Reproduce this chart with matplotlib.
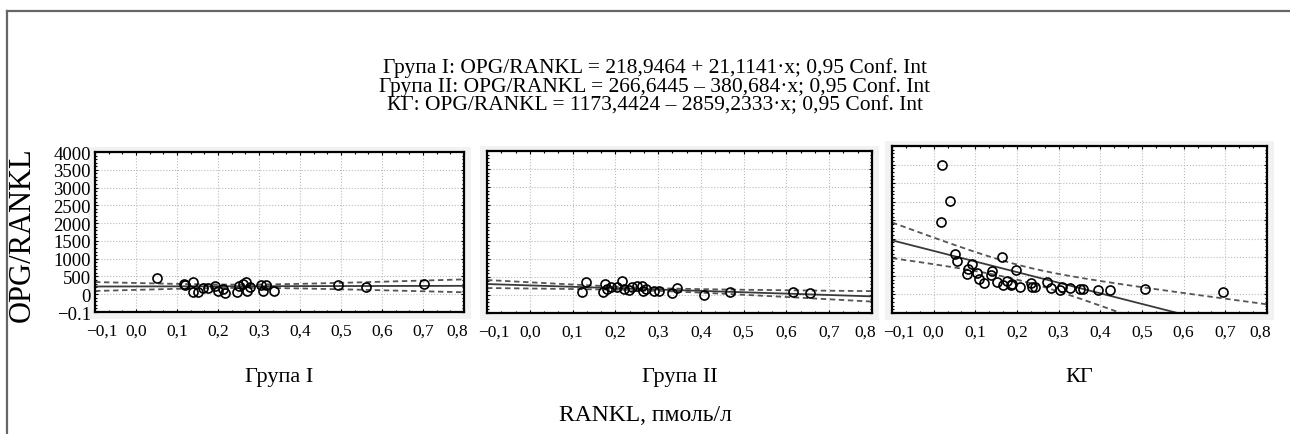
import matplotlib
matplotlib.use("Agg")
import matplotlib.pyplot as plt
import numpy as np
from matplotlib.ticker import FixedLocator, AutoMinorLocator
from matplotlib.patches import Rectangle
from matplotlib.lines import Line2D
from matplotlib.transforms import ScaledTranslation

plt.rcParams["font.family"] = ["Liberation Serif", "DejaVu Serif"]

# --- data --------------------------------------------------------------------
g1_x = [0.05, 0.118, 0.12, 0.138, 0.138, 0.152, 0.164, 0.176, 0.193, 0.20, 0.211, 0.217,
        0.247, 0.252, 0.262, 0.268, 0.271, 0.278, 0.304, 0.31, 0.318, 0.337, 0.493, 0.56, 0.702]
g1_y = [450, 300, 250, 330, 70, 60, 180, 170, 240, 80, 150, 30,
        60, 220, 280, 350, 100, 200, 250, 90, 270, 90, 270, 200, 300]

g2_x = [0.121, 0.131, 0.172, 0.176, 0.180, 0.191, 0.203, 0.216, 0.220, 0.233, 0.240, 0.250,
        0.262, 0.265, 0.272, 0.291, 0.303, 0.332, 0.343, 0.408, 0.468, 0.616, 0.655]
g2_y = [90, 370, 90, 300, 180, 210, 210, 400, 180, 150, 210, 260,
        260, 120, 180, 120, 120, 50, 190, 10, 70, 70, 55]

kg_x = [0.021, 0.040, 0.017, 0.051, 0.055, 0.091, 0.083, 0.080, 0.104, 0.109, 0.120, 0.139,
        0.137, 0.151, 0.163, 0.167, 0.175, 0.185, 0.189, 0.197, 0.207, 0.233, 0.235, 0.243,
        0.271, 0.281, 0.303, 0.307, 0.327, 0.350, 0.359, 0.395, 0.422, 0.507, 0.694]
kg_y = [3490, 2507, 1943, 1092, 896, 824, 690, 555, 582, 421, 313, 628,
        536, 332, 1019, 260, 375, 260, 270, 670, 198, 313, 214, 198,
        332, 171, 107, 198, 180, 134, 152, 107, 107, 134, 64]

# regression coefficients from the title (intercept, slope)
g1_coef = (218.9464, 21.1141)
g2_coef = (266.6445, -380.684)
kg_coef = (1173.4424, -2859.2333)

panel_names = ["Група I", "Група II", "КГ"]
title_lines = [
    "Група I: OPG/RANKL = 218,9464 + 21,1141·x; 0,95 Conf. Int",
    "Група II: OPG/RANKL = 266,6445 – 380,684·x; 0,95 Conf. Int",
    "КГ: OPG/RANKL = 1173,4424 – 2859,2333·x; 0,95 Conf. Int",
]
x_ticks = [-0.1, 0.0, 0.1, 0.2, 0.3, 0.4, 0.5, 0.6, 0.7, 0.8]
x_ticklabels = ["−0,1", "0,0", "0,1", "0,2", "0,3", "0,4", "0,5", "0,6", "0,7", "0,8"]
y_ticks = [-500, 0, 500, 1000, 1500, 2000, 2500, 3000, 3500, 4000]
y_ticklabels = ["−0.1", "0", "500", "1000", "1500", "2000", "2500", "3000", "3500", "4000"]


def conf_band(x, y, coef, xs):
    # 95% confidence band of the mean around the given line
    x = np.asarray(x, float)
    y = np.asarray(y, float)
    n = len(x)
    resid = y - (coef[0] + coef[1] * x)
    s = np.sqrt(np.sum(resid**2) / (n - 2))
    sxx = np.sum((x - x.mean())**2)
    h = 2.03 * s * np.sqrt(1.0 / n + (xs - x.mean())**2 / sxx)
    fit = coef[0] + coef[1] * xs
    return fit, fit - h, fit + h


W, H = 1290, 435
fig = plt.figure(figsize=(W / 100, H / 100), dpi=100)

# outer frame (top and left edges visible)
fig.add_artist(Line2D([7 / W, 7 / W], [0, 1 - 12 / H], transform=fig.transFigure,
                      color="#666666", lw=1.6))
fig.add_artist(Line2D([7 / W, 1], [1 - 12 / H, 1 - 12 / H], transform=fig.transFigure,
                      color="#666666", lw=1.6))

# panel boxes in pixels: left, top, right, bottom
boxes = [(95, 153, 464, 313), (487, 152, 872, 314), (892, 147, 1267, 314)]
datasets = [(g1_x, g1_y, g1_coef), (g2_x, g2_y, g2_coef), (kg_x, kg_y, kg_coef)]

for i, ((l, t, r, b), (xd, yd, coef)) in enumerate(zip(boxes, datasets)):
    # light grey plot surround
    fig.add_artist(Rectangle(((l - 7) / W, 1 - (b + 7) / H), (r - l + 14) / W, (b - t + 12) / H,
                             transform=fig.transFigure, facecolor="#f2f2f2",
                             edgecolor="none", zorder=0))
    ax = fig.add_axes([l / W, 1 - b / H, (r - l) / W, (b - t) / H])
    ax.set_xlim(-0.1, 0.8)
    ax.set_ylim(-500, 4000)

    xs = np.linspace(-0.1, 0.8, 200)
    fit, lo, hi = conf_band(xd, yd, coef, xs)
    ax.plot(xs, fit, color="#3a3a3a", lw=1.3, zorder=2)
    ax.plot(xs, lo, color="#555555", lw=1.3, ls=(0, (3, 2)), zorder=2)
    ax.plot(xs, hi, color="#555555", lw=1.3, ls=(0, (3, 2)), zorder=2)
    ax.plot(xd, yd, "o", ms=6.5, mfc="none", mec="black", mew=1.2, zorder=3)

    ax.xaxis.set_major_locator(FixedLocator(x_ticks))
    ax.yaxis.set_major_locator(FixedLocator(y_ticks))
    ax.xaxis.set_minor_locator(AutoMinorLocator(3))
    ax.yaxis.set_minor_locator(AutoMinorLocator(5))
    ax.grid(True, which="major", color="#bbbbbb", ls=":", lw=0.8)
    ax.tick_params(which="both", direction="in", top=True, right=True,
                   length=2.5, width=0.8, pad=8)
    ax.tick_params(axis="x", labelsize=12.5)
    ax.tick_params(which="minor", length=1.5)
    ax.set_xticklabels(x_ticklabels)
    # edge labels sit a little inward, as in the reference
    xl = ax.get_xticklabels()
    xl[0].set_transform(xl[0].get_transform() + ScaledTranslation(5 / 72, 0, fig.dpi_scale_trans))
    xl[-1].set_transform(xl[-1].get_transform() + ScaledTranslation(-5 / 72, 0, fig.dpi_scale_trans))
    if i == 0:
        ax.set_yticklabels(y_ticklabels)
        ax.tick_params(axis="y", pad=3, labelsize=13.5)
    else:
        ax.set_yticklabels([])
    for sp in ax.spines.values():
        sp.set_linewidth(1.6)

    fig.text((l + r) / 2 / W, 1 - 378 / H, panel_names[i], ha="center", va="center",
             fontsize=16)

fig.text(22 / W, 1 - 235 / H, "OPG/RANKL", rotation=90, ha="center", va="center",
         fontsize=22)
for k, line in enumerate(title_lines):
    fig.text(655 / W, 1 - (68 + 19 * k) / H, line, ha="center", va="center", fontsize=15.5)
fig.text(645 / W, 1 - 416 / H, "RANKL, пмоль/л", ha="center", va="center", fontsize=17)

fig.savefig("out.png", dpi=100)
